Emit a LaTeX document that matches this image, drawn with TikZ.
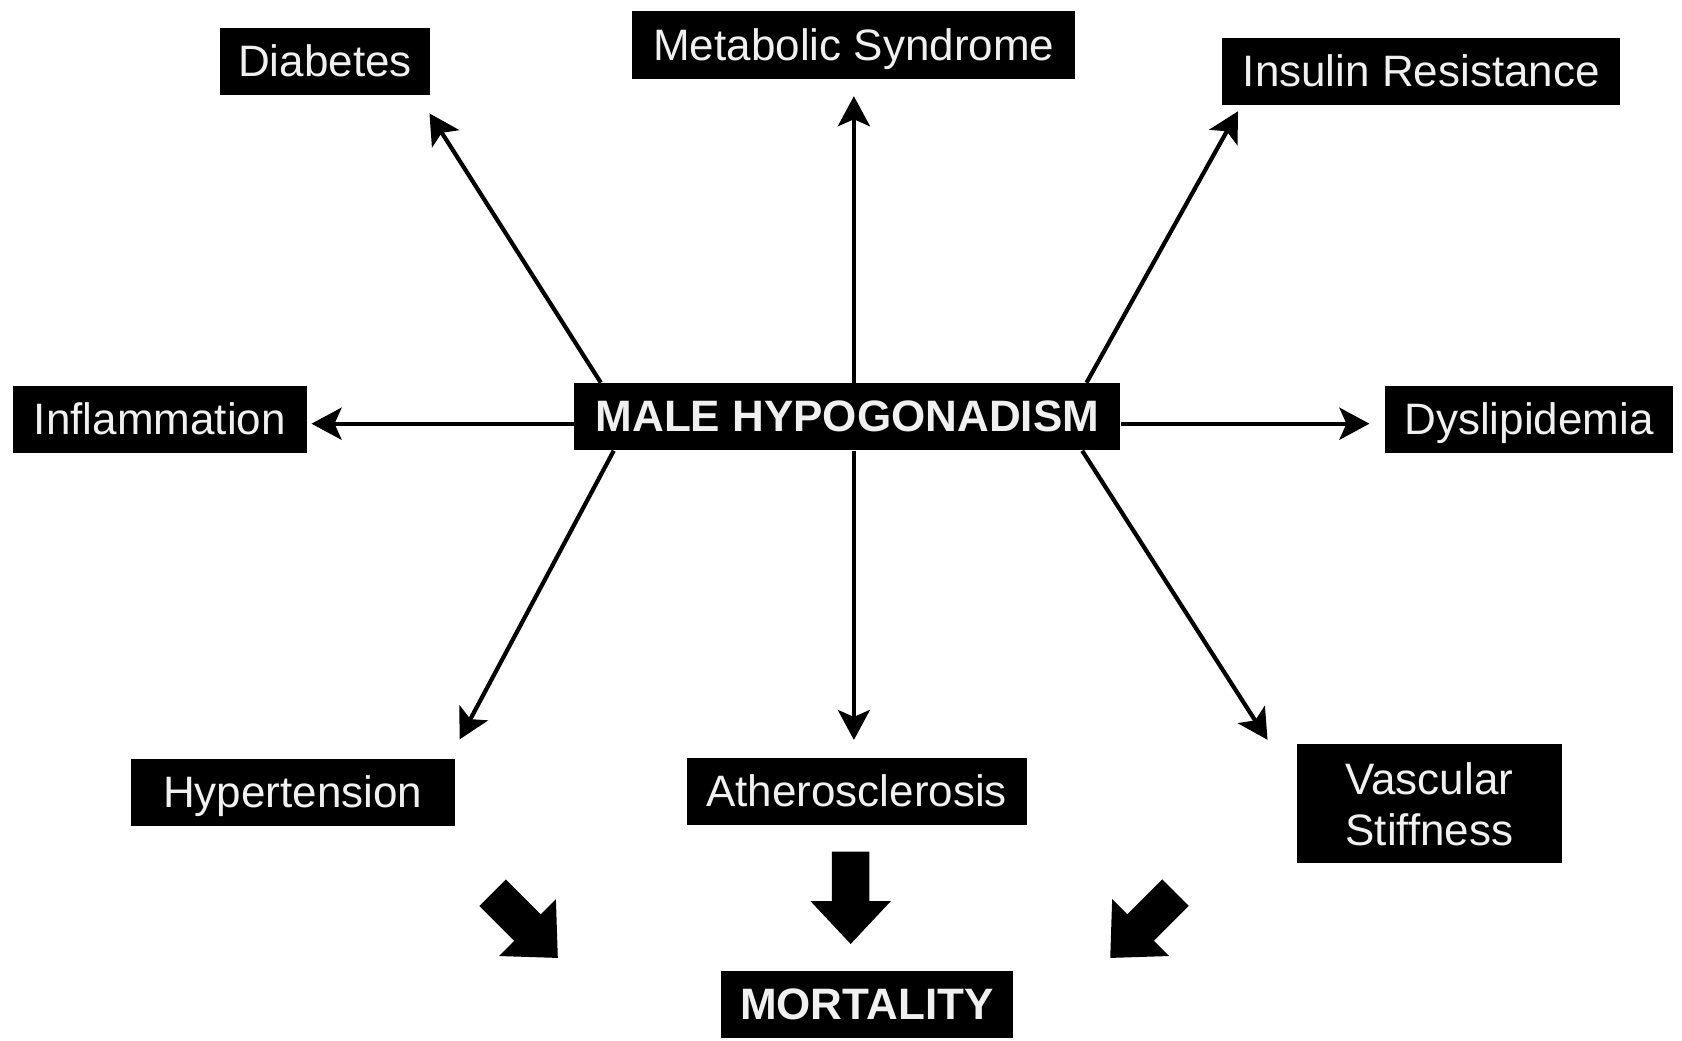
\documentclass[tikz,border=0pt]{standalone}
\usepackage{fontspec}
\setmainfont{Liberation Sans}
\usetikzlibrary{arrows.meta,calc}
\begin{document}
\begin{tikzpicture}[x=0.53635pt,y=-0.53635pt,
  box/.style={fill=black,text=white!94!black,font=\fontsize{22}{25.5}\selectfont,inner sep=0pt,minimum height=33.6pt,align=center,text height=16pt,text depth=1pt},
  bbox/.style={box,font=\fontsize{22}{25.5}\selectfont\bfseries},
  thin/.style={line width=2.1pt,-{Stealth[length=15pt,width=16pt,inset=3.5pt]}},
  blockarrow/.pic={\fill[black] (0,0) -- (-40,37.5) -- (-40,17.5) -- (-86,17.5) -- (-86,-17.5) -- (-40,-17.5) -- (-40,-37.5) -- cycle;}
]
\useasboundingbox[fill=white] (0,0) rectangle (1568,970);

\node[box,minimum width=105.1pt] (diab) at (303,57) {Diabetes};
\node[box,minimum width=221.5pt] (meta) at (796,42) {Metabolic Syndrome};
\node[box,minimum width=199pt] (insu) at (1325,67) {Insulin Resistance};
\node[box,minimum width=147pt] (infl) at (149,391) {Inflammation};
\node[bbox,minimum width=273pt] (male) at (790,388.5) {MALE HYPOGONADISM};
\node[box,minimum width=144.3pt] (dysl) at (1425.5,391) {Dyslipidemia};
\node[box,minimum width=162pt] (hype) at (273,739) {Hypertension};
\node[box,minimum width=170pt] (athe) at (798.5,737.5) {Atherosclerosis};
\node[box,minimum width=132.5pt,minimum height=59.5pt,text height=,text depth=] (vasc) at (1332.5,749.5) {Vascular\\Stiffness};
\node[bbox,minimum width=145.9pt] (mort) at (808,936.5) {MORTALITY};

\draw[thin] ($(male.north west)+(25,0)$) -- ($(diab.south east)+(-1,17)$);
\draw[thin] ($(male.north)+(6,0)$) -- ($(meta.south)+(0,16)$);
\draw[thin] ($(male.north east)+(-32,0)$) -- ($(insu.south west)+(15,5)$);
\draw[thin] ($(male.west)+(0,6.5)$) -- ($(infl.east)+(4,4)$);
\draw[thin] ($(male.east)+(0,6.5)$) -- ($(dysl.west)+(-14,4)$);
\draw[thin] ($(male.south west)+(37,0)$) -- ($(hype.north east)+(4,-18)$);
\draw[thin] ($(male.south)+(6,0)$) -- ($(athe.north)+(-2.5,-16)$);
\draw[thin] ($(male.south east)+(-36,0)$) -- ($(vasc.north west)+(-27,-4)$);

\pic[rotate=-45] at (520,893) {blockarrow};
\pic[rotate=-90] at (793,880) {blockarrow};
\pic[rotate=-135] at (1035,893) {blockarrow};
\end{tikzpicture}
\end{document}
